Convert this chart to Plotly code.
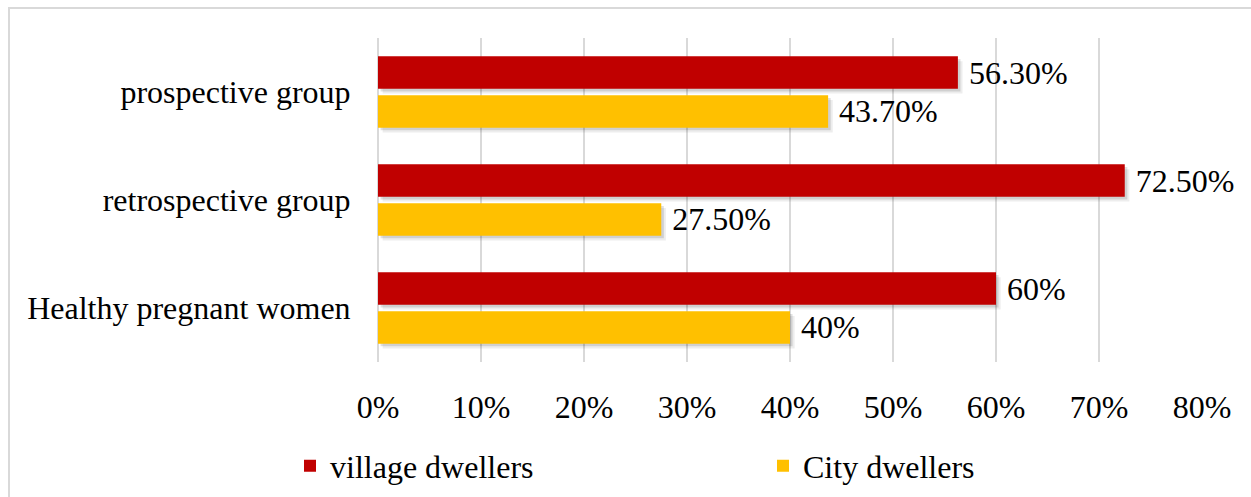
import plotly.graph_objects as go

# Share of residents by place of living, per study group (percent)
groups = ["Healthy pregnant women", "retrospective group", "prospective group"]
village = [60, 72.5, 56.3]
city = [40, 27.5, 43.7]
x_ticks = [0, 10, 20, 30, 40, 50, 60, 70, 80]


def pct_label(v):
    return f"{v:.0f}%" if float(v).is_integer() else f"{v:.2f}%"


FONT = "Liberation Serif"
FS = 32
RED = "#C00000"
GOLD = "#FFC000"
BAR_W = 0.30
OFF_RED, OFF_GOLD = 0.03, -0.33

# figure and plot-area pixel geometry
W, H = 1251, 497
L, R, T, B = 378, 1202, 38, 362
PW, PH = R - L, B - T

fig = go.Figure()

# soft drop shadows drawn under the bars
for shift, alpha in [(0.45, 0.07), (0.25, 0.12)]:
    for vals, off in [(village, OFF_RED), (city, OFF_GOLD)]:
        fig.add_trace(go.Bar(
            y=groups, x=vals, orientation="h", base=shift,
            width=BAR_W, offset=off - shift / 10,
            marker=dict(color=f"rgba(0,0,0,{alpha})", line=dict(width=0)),
            showlegend=False, hoverinfo="skip",
        ))

for vals, off, color, name in [(village, OFF_RED, RED, "village dwellers"),
                               (city, OFF_GOLD, GOLD, "City dwellers")]:
    fig.add_trace(go.Bar(
        y=groups, x=vals, orientation="h", name=name,
        width=BAR_W, offset=off,
        marker=dict(color=color, line=dict(width=0)),
        text=["\u00a0" + pct_label(v) for v in vals], textposition="outside",
        textfont=dict(family=FONT, size=FS, color="black"),
        cliponaxis=False, constraintext="none",
    ))

fig.update_layout(
    width=W, height=H,
    margin=dict(l=L, r=W - R, t=T, b=H - B, autoexpand=False),
    paper_bgcolor="white", plot_bgcolor="white",
    barmode="overlay",
    font=dict(family=FONT, size=FS, color="black"),
    xaxis=dict(
        range=[0, 80], tickvals=x_ticks,
        ticktext=[f"{t}%" for t in x_ticks],
        showgrid=True, gridcolor="#D9D9D9", gridwidth=2,
        zeroline=True, zerolinecolor="#D9D9D9", zerolinewidth=2,
        showline=False, automargin=False,
        ticks="outside", ticklen=17, tickcolor="rgba(0,0,0,0)",
        tickfont=dict(family=FONT, size=FS, color="black"),
    ),
    yaxis=dict(
        categoryorder="array", categoryarray=groups,
        range=[-0.5, 2.5], showgrid=False, zeroline=False,
        showline=False, automargin=False,
        ticks="outside", ticklen=20, tickcolor="rgba(0,0,0,0)",
        tickfont=dict(family=FONT, size=FS, color="black"),
    ),
    legend=dict(
        orientation="h",
        x=(290 - L) / PW, xanchor="left",
        y=(B - 466) / PH, yanchor="middle",
        entrywidth=428, entrywidthmode="pixels",
        tracegroupgap=0,
        font=dict(family=FONT, size=FS, color="black"),
        bgcolor="rgba(0,0,0,0)",
    ),
    shapes=[dict(
        type="rect", xref="paper", yref="paper",
        x0=(9 - L) / PW, x1=(1275 - L) / PW,
        y0=(B - 520) / PH, y1=(B - 8) / PH,
        line=dict(color="#D9D9D9", width=2), fillcolor="rgba(0,0,0,0)",
        layer="below",
    )],
)

fig.write_html("out.html")
